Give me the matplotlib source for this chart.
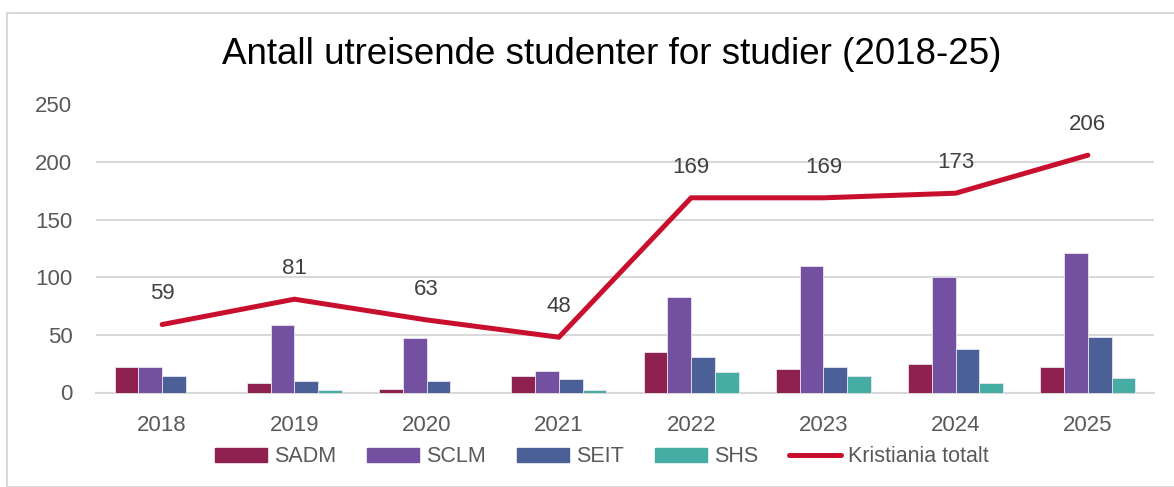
import matplotlib
matplotlib.use("Agg")
import matplotlib.pyplot as plt
from matplotlib.patches import Rectangle
from matplotlib.lines import Line2D
import numpy as np

plt.rcParams['font.family'] = ['Liberation Sans', 'DejaVu Sans']

# data
years = ['2018', '2019', '2020', '2021', '2022', '2023', '2024', '2025']
sadm = [22, 8, 3, 14, 35, 20, 25, 22]
sclm = [22, 59, 47, 19, 83, 110, 100, 121]
seit = [14, 10, 10, 12, 31, 22, 38, 48]
shs = [0, 2, 0, 2, 18, 14, 8, 13]
total = [59, 81, 63, 48, 169, 169, 173, 206]

series = [('SADM', sadm, '#8E2150'),
          ('SCLM', sclm, '#7451A0'),
          ('SEIT', seit, '#4A6096'),
          ('SHS', shs, '#45ADA4')]
line_color = '#C8102E'
grid_color = '#D9D9D9'
tick_color = '#595959'

W, H = 1174, 487
fig = plt.figure(figsize=(W / 100, H / 100), dpi=100)

# outer chart border (cropped on right/bottom like the reference)
fig.patches.append(Rectangle((7 / W, 0), 1.0, 1 - 13 / H, transform=fig.transFigure,
                             fill=False, edgecolor=grid_color, linewidth=1.5))

ax = fig.add_axes([96 / W, (H - 392.5) / H, (1154 - 96) / W, (392.5 - 104.5) / H])

x = np.arange(len(years))
w = 0.18
for i, (name, vals, col) in enumerate(series):
    ax.bar(x + (i - 1.5) * w, vals, width=w, color=col, edgecolor='#E8E4F0',
           linewidth=0.6, zorder=3)

ax.plot(x, total, color=line_color, linewidth=3.6, solid_capstyle='round',
        solid_joinstyle='miter', zorder=4)
for xi, v in zip(x, total):
    ax.annotate(str(v), (xi, v), xytext=(0, 22), textcoords='offset points',
                ha='center', va='center', fontsize=16, color='#404040', zorder=5)

ax.set_xlim(-0.5, len(years) - 0.5)
ax.set_ylim(0, 250)
ax.set_yticks(range(0, 251, 50))
ax.set_xticks(x)
ax.set_xticklabels(years)
ax.yaxis.grid(True, color=grid_color, linewidth=1.5)
ax.set_axisbelow(True)
for s in ['top', 'right', 'left']:
    ax.spines[s].set_visible(False)
ax.spines['bottom'].set_color(grid_color)
ax.spines['bottom'].set_linewidth(1.5)
ax.tick_params(axis='both', length=0, labelsize=16, labelcolor=tick_color)
ax.tick_params(axis='y', pad=17)
ax.tick_params(axis='x', pad=16)

fig.text(612 / W, 1 - 55 / H, 'Antall utreisende studenter for studier (2018-25)',
         ha='center', va='center', fontsize=26.5, color='black')

handles = [Rectangle((0, 0), 1, 1, color=c) for _, _, c in series]
handles.append(Line2D([0], [0], color=line_color, linewidth=3.6, solid_capstyle='round'))
labels = [n for n, _, _ in series] + ['Kristiania totalt']
fig.legend(handles, labels, loc='center', bbox_to_anchor=(602 / W, 1 - 457 / H),
           ncol=5, frameon=False, fontsize=15.5, handlelength=2.4, handleheight=0.6,
           handletextpad=0.33, columnspacing=1.45, labelcolor=tick_color)

fig.savefig('out.png', dpi=100)
